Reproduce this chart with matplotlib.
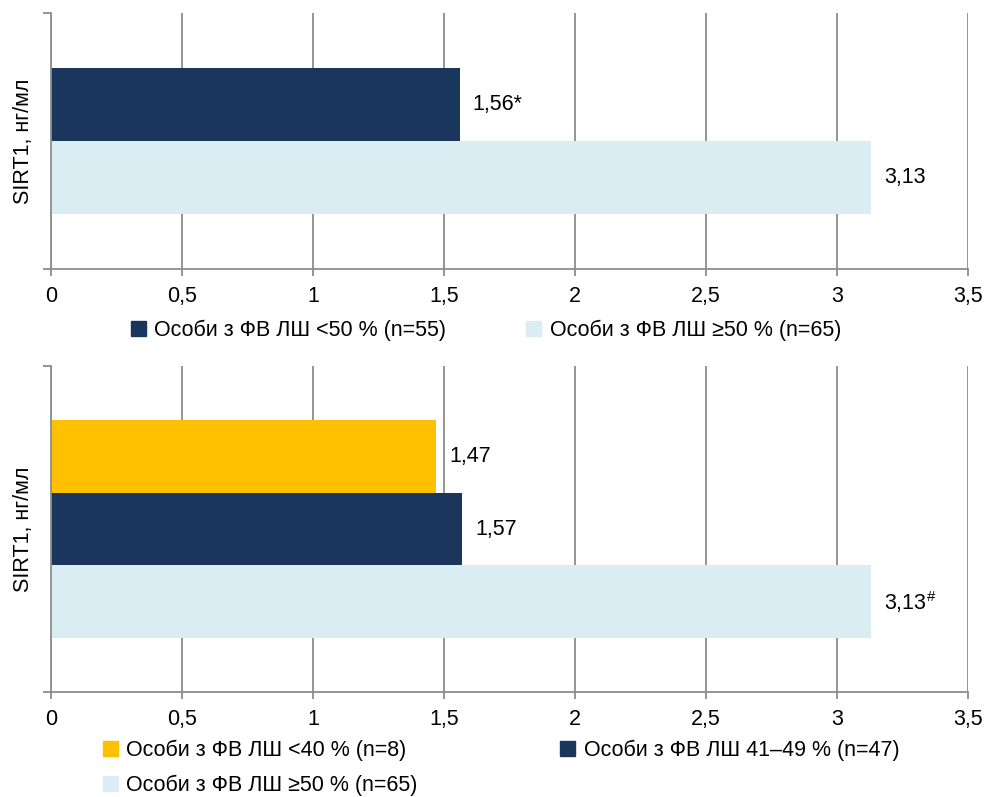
import matplotlib
matplotlib.use("Agg")
import matplotlib.pyplot as plt
from matplotlib.patches import Patch

plt.rcParams['font.family'] = ['Liberation Sans', 'DejaVu Sans']
plt.rcParams['mathtext.fontset'] = 'custom'
plt.rcParams['mathtext.rm'] = 'Liberation Sans'
plt.rcParams['mathtext.it'] = 'Liberation Sans'

# Data
top_labels = ["Особи з ФВ ЛШ <50 % (n=55)", "Особи з ФВ ЛШ ≥50 % (n=65)"]
top_values = [1.56, 3.13]
top_texts = ["1,56*", "3,13"]

bot_labels = ["Особи з ФВ ЛШ <40 % (n=8)", "Особи з ФВ ЛШ 41–49 % (n=47)", "Особи з ФВ ЛШ ≥50 % (n=65)"]
bot_values = [1.47, 1.57, 3.13]
bot_texts = ["1,47", "1,57", "3,13$^{\\#}$"]

xticks = [0, 0.5, 1, 1.5, 2, 2.5, 3, 3.5]
xtick_labels = ["0", "0,5", "1", "1,5", "2", "2,5", "3", "3,5"]

navy = "#1B365D"
light = "#DAEDF3"
yellow = "#FFC000"
grid_c = "#8C8C8C"
fs = 15.5

W, H = 988, 797
fig = plt.figure(figsize=(W / 100, H / 100), dpi=100)


def setup(ax):
    ax.set_xlim(0, 3.5)
    ax.set_ylim(-0.5, 0.5)
    ax.set_xticks(xticks)
    ax.set_xticklabels(xtick_labels, fontsize=fs)
    ax.set_yticks([-0.5, 0.5])
    ax.set_yticklabels([])
    ax.tick_params(axis='x', length=5, width=1.3, color=grid_c, pad=7)
    ax.tick_params(axis='y', length=6, width=1.3, color=grid_c)
    for s in ['top', 'right']:
        ax.spines[s].set_visible(False)
    for s in ['left', 'bottom']:
        ax.spines[s].set_color(grid_c)
        ax.spines[s].set_linewidth(1.3)
    ax.grid(axis='x', color=grid_c, linewidth=1.3)
    ax.set_axisbelow(True)
    ax.set_ylabel("SIRT1, нг/мл", fontsize=fs, labelpad=3)


# top chart
ax1 = fig.add_axes([51 / W, (H - 269) / H, 917 / W, 256 / H])
setup(ax1)
h1 = 0.287
pos1 = [h1 / 2, -h1 / 2]
cols1 = [navy, light]
ax1.barh(pos1, top_values, height=h1, color=cols1)
for y, v, t in zip(pos1, top_values, top_texts):
    ax1.text(v + 0.05, y, t, va='center', ha='left', fontsize=fs)

fig.legend([Patch(color=c) for c in cols1], top_labels, loc='center',
           bbox_to_anchor=(486 / W, (H - 330) / H), ncol=2, frameon=False,
           fontsize=fs, handlelength=0.7, handleheight=0.7,
           handletextpad=0.4, columnspacing=3.7)

# bottom chart
ax2 = fig.add_axes([51 / W, (H - 692) / H, 917 / W, 326 / H])
setup(ax2)
h2 = 0.223
pos2 = [h2, 0, -h2]
cols2 = [yellow, navy, light]
ax2.barh(pos2, bot_values, height=h2, color=cols2)
for y, v, t in zip(pos2, bot_values, bot_texts):
    ax2.text(v + 0.05, y, t, va='center', ha='left', fontsize=fs)

order = [0, 2, 1]
fig.legend([Patch(color=cols2[i]) for i in order], [bot_labels[i] for i in order],
           loc='center', bbox_to_anchor=(501 / W, (H - 768) / H), ncol=2,
           frameon=False, fontsize=fs, handlelength=0.7, handleheight=0.7,
           handletextpad=0.4, columnspacing=6.6, labelspacing=0.65)

fig.savefig("out.png", dpi=100)
